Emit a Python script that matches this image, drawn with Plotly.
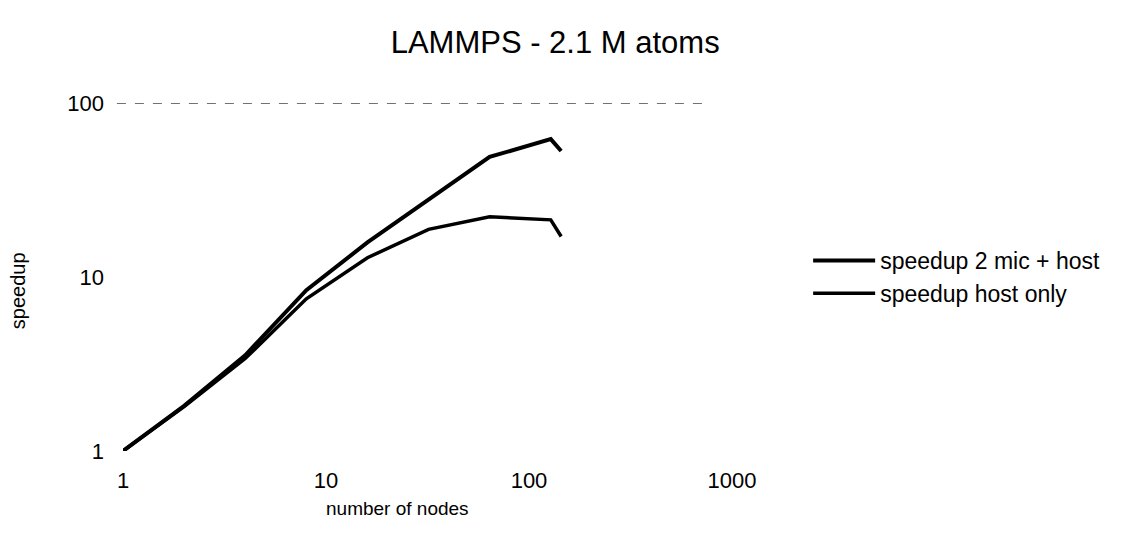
import plotly.graph_objects as go

nodes = [1, 2, 4, 8, 16, 32, 64, 128, 144]
speedup_mic_host = [1, 1.82, 3.55, 8.4, 15.8, 28, 49, 62, 53]
speedup_host_only = [1, 1.8, 3.4, 7.5, 12.9, 18.8, 22.2, 21.3, 17.1]
series_names = ["speedup 2 mic + host", "speedup host only"]
x_ticks = [1, 10, 100, 1000]
y_ticks = [1, 10, 100]

FONT = "Liberation Sans, Arial, sans-serif"

fig = go.Figure()
fig.add_trace(go.Scatter(x=nodes, y=speedup_mic_host, mode="lines", name=series_names[0],
                         line=dict(color="black", width=4)))
fig.add_trace(go.Scatter(x=nodes, y=speedup_host_only, mode="lines", name=series_names[1],
                         line=dict(color="black", width=3.5)))

fig.add_shape(type="line", xref="paper", yref="y", x0=-0.01, x1=0.96, y0=100, y1=100,
              line=dict(color="#444", width=1.5, dash="dash"))

fig.add_annotation(text="number of nodes", xref="paper", yref="paper", x=0.450, y=-0.165,
                   xanchor="center", yanchor="middle", showarrow=False,
                   font=dict(size=19, family=FONT, color="black"))
fig.add_annotation(text="speedup", xref="paper", yref="paper", x=-0.172, y=0.46,
                   xanchor="center", yanchor="middle", showarrow=False, textangle=-90,
                   font=dict(size=20, family=FONT, color="black"))

fig.update_layout(
    width=1133, height=537,
    margin=dict(l=123, r=401, t=103, b=86),
    paper_bgcolor="white", plot_bgcolor="white",
    font=dict(family=FONT, color="black"),
    title=dict(text="LAMMPS - 2.1 M atoms", x=0.49, xanchor="center", y=0.922, yanchor="middle",
               font=dict(size=31, family=FONT, color="black")),
    xaxis=dict(type="log", range=[0, 3], tickvals=x_ticks, ticktext=[str(v) for v in x_ticks],
               showgrid=False, zeroline=False, showline=False, ticks="",
               tickfont=dict(size=22), ticklabelstandoff=14),
    yaxis=dict(type="log", range=[0, 2], tickvals=y_ticks, ticktext=[str(v) for v in y_ticks],
               showgrid=False, zeroline=False, showline=False, ticks="",
               tickfont=dict(size=22), ticklabelstandoff=18),
    legend=dict(x=1.125, y=0.5, xanchor="left", yanchor="middle", font=dict(size=23),
                bgcolor="rgba(0,0,0,0)", itemwidth=62, tracegroupgap=0),
    showlegend=True,
)

fig.write_html("out.html")
